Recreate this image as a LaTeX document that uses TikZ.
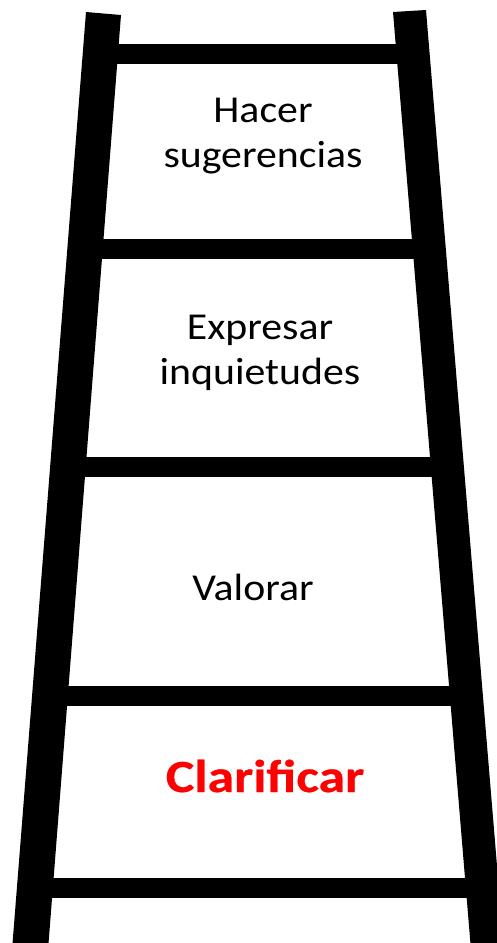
\documentclass[tikz,border=0pt]{standalone}
\usepackage{fontspec}
\setmainfont{Carlito}
\newfontfamily\stepfont[FakeStretch=1.1]{Carlito}
\newfontfamily\stepboldfont[FakeStretch=1.17,FakeBold=0.6]{Carlito Bold}
\definecolor{clarred}{RGB}{255,0,0}
\begin{document}
\begin{tikzpicture}[x=1pt,y=-1pt,
  rail/.style={fill=black,draw=none},
  rung/.style={fill=black,draw=none},
  steplabel/.style={inner sep=0pt,align=center,font=\stepfont\fontsize{38}{44.5}\selectfont},
  keylabel/.style={inner sep=0pt,align=center,text=clarred,font=\stepboldfont\fontsize{46}{52}\selectfont}]
\useasboundingbox (0,0) rectangle (497,943);
\clip (0,0) rectangle (497,943);
% rails
\fill[rail] (86,12) -- (121,15) -- (48,950) -- (12,950) -- cycle;
\fill[rail] (393,12) -- (426,10) -- (504,950) -- (471,950) -- cycle;
% rungs
\fill[rung] (100,44) rectangle (413,64);
\fill[rung] (85,239) rectangle (429,259);
\fill[rung] (68,457) rectangle (447,477);
\fill[rung] (50,686) rectangle (466,706);
\fill[rung] (35,878) rectangle (482,898);
% labels
\node[steplabel,anchor=north] (sug) at (263,98) {Hacer\\sugerencias};
\node[steplabel,anchor=north] (inq) at (260,315) {Expresar\\inquietudes};
\node[steplabel,anchor=base] (val) at (253,600) {Valorar};
\node[keylabel,anchor=base] (cla) at (265,792) {Clarificar};
\end{tikzpicture}
\end{document}
